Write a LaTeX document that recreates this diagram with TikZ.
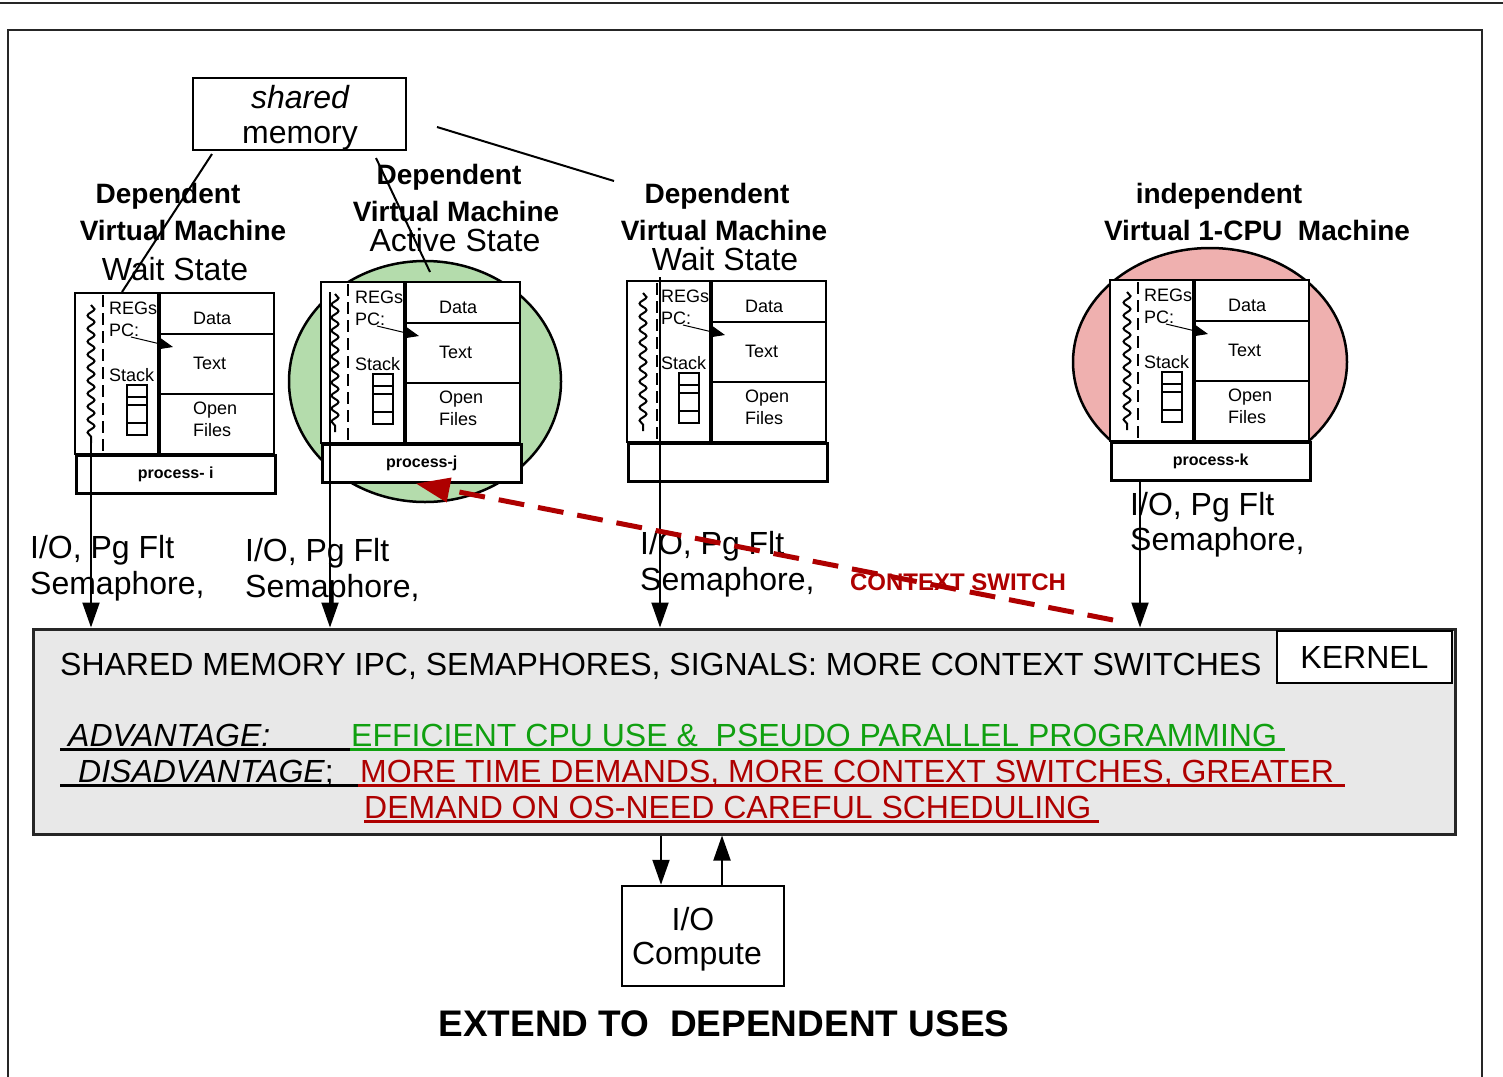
\documentclass[tikz,border=0pt]{standalone}
\usepackage{fontspec}
\setmainfont{Liberation Sans}
\usetikzlibrary{arrows.meta,decorations.pathmorphing,calc}

\definecolor{vmgreen}{HTML}{B4DCAC}
\definecolor{vmpink}{HTML}{EFB0AF}
\definecolor{csred}{HTML}{AE0000}
\definecolor{advgreen}{HTML}{10A010}
\definecolor{kgray}{HTML}{E8E8E8}

\newcommand\bigtext{\fontsize{32}{35}\selectfont}
\newcommand\headtext{\fontsize{28}{34}\selectfont\bfseries}
\newcommand\celltext{\fontsize{18}{20}\selectfont}

% one process block: #1,#2 top-left corner, #3 name, #4 label,
% #5 x of the dashed line, #6 x of the thread (wavy line)
\newcommand\vmproc[6]{%
  \begin{scope}[shift={(#1,#2)}]
    \coordinate (#3-nw) at (0,0);
    \draw[procline, fill=white] (0,0) rectangle (199,161);
    \draw[line width=3.2pt] (84,0) -- (84,161);
    \draw[procline] (84,41) -- (199,41) (84,101) -- (199,101);
    \draw[procline, dash pattern=on 12pt off 6pt] (#5,2) -- (#5,161);
    \draw[thread] (#6,12) -- (#6,150);
    \node[cell] (#3-regs) at (34,21) {REGs};
    \node[cell] (#3-pc) at (34,43) {PC:};
    \node[cell] (#3-stack) at (34,88) {Stack};
    \draw[procline] (52,92) rectangle (72,142)
      (52,104) -- (72,104) (52,112) -- (72,112) (52,130) -- (72,130);
    \draw[pcarrow] (56,44) -- (98,54);
    \node[cell] (#3-data) at (118,31) {Data};
    \node[cell] (#3-text) at (118,76) {Text};
    \node[cell] (#3-open) at (118,121) {Open};
    \node[cell] (#3-files) at (118,143) {Files};
    \node[procline, draw, fill=white, minimum width=199pt, minimum height=38pt,
      inner sep=0pt, anchor=north west,
      font=\fontsize{16}{18}\selectfont\bfseries] (#3-bot) at (0,161) {#4};
  \end{scope}}

\begin{document}
\begin{tikzpicture}[x=1pt, y=-1pt,
  procline/.style={line width=2.5pt},
  box/.style={draw, line width=2.5pt},
  thread/.style={line width=2pt, decorate,
    decoration={snake, amplitude=3.5pt, segment length=13pt}},
  cell/.style={font=\celltext, inner sep=0pt, anchor=base west},
  pcarrow/.style={line width=1pt, -{Triangle[length=15pt,width=12pt]}},
  lbl/.style={font=\bigtext, inner sep=0pt, anchor=base west},
  hdr/.style={font=\headtext, inner sep=0pt, anchor=base},
  sub/.style={font=\bigtext, inner sep=0pt, anchor=base},
  arr/.style={line width=2pt, -{Triangle[length=25pt,width=17pt]}},
  csline/.style={line width=5pt, csred, dash pattern=on 26pt off 14pt,
    -{Triangle[length=34pt,width=24pt]}},
  uline/.style={line width=3pt}]

\useasboundingbox (0,0) rectangle (1503,1076);

% page rule and frame
\draw[line width=2.5pt, black!85] (0,3) -- (1503,3);
\draw[line width=2.5pt, black!85] (8,1090) -- (8,30) -- (1482,30) -- (1482,1090);

% shared memory
\node[box, minimum width=213pt, minimum height=72pt, inner sep=0pt] (shm) at (299.5,114) {};
\node[sub, font=\bigtext\itshape] (shm-a) at (300,108) {shared};
\node[sub] (shm-b) at (300,143) {memory};

% virtual machine circles
\draw[line width=2.5pt, fill=vmgreen] (425,381.5) ellipse [x radius=136pt, y radius=120.5pt];
\draw[line width=2.5pt, fill=vmpink] (1210,362) ellipse [x radius=137pt, y radius=114pt];

% links from the shared memory
\coordinate (sl1) at (212,154);
\coordinate (sl2) at (376,158);
\coordinate (sl3) at (437,127);
\coordinate (st1) at (122,292);
\coordinate (st2) at (430,272);
\coordinate (st3) at (614,181);

% process blocks
\vmproc{75}{293}{pi}{process- i}{28}{16}
\vmproc{321}{282}{pj}{process-j}{27}{14}
\vmproc{627}{281}{p3}{}{30}{16}
\vmproc{1110}{280}{pk}{process-k}{28}{17}

\draw[line width=2pt] (sl1) -- (st1);
\draw[line width=2pt] (sl2) -- (st2);
\draw[line width=2pt] (sl3) -- (st3);

% headings
\node[hdr] (h1a) at (168,203) {Dependent};
\node[hdr] (h1b) at (183,240) {Virtual Machine};
\node[sub] (h1c) at (175,280) {Wait State};
\node[hdr] (h2a) at (449,184) {Dependent};
\node[hdr] (h2b) at (456,221) {Virtual Machine};
\node[sub] (h2c) at (455,251) {Active State};
\node[hdr] (h3a) at (717,203) {Dependent};
\node[hdr] (h3b) at (724,240) {Virtual Machine};
\node[sub] (h3c) at (725,270) {Wait State};
\node[hdr] (h4a) at (1219,203) {independent};
\node[hdr] (h4b) at (1257,240) {Virtual 1-CPU\ \ Machine};

% trap labels
\node[lbl] (t1a) at (30,558) {I/O, Pg Flt};
\node[lbl] (t1b) at (30,594) {Semaphore,};
\node[lbl] (t2a) at (245,561) {I/O, Pg Flt};
\node[lbl] (t2b) at (245,597) {Semaphore,};
\node[lbl] (t3a) at (640,554) {I/O, Pg Flt};
\node[lbl] (t3b) at (640,590) {Semaphore,};
\node[lbl] (t4a) at (1130,515) {I/O, Pg Flt};
\node[lbl] (t4b) at (1130,550) {Semaphore,};

% kernel
\node[draw=black!85, line width=3pt, fill=kgray, minimum width=1422pt,
  minimum height=205pt, inner sep=0pt] (kernel) at (744,731.5) {};
\node[box, fill=white, minimum width=175pt, minimum height=52pt, inner sep=0pt,
  font=\bigtext] (kname) at (1364.5,657) {KERNEL};
\node[lbl] (k1) at (60,675) {SHARED MEMORY IPC, SEMAPHORES, SIGNALS: MORE CONTEXT SWITCHES};
\node[lbl, font=\bigtext\itshape] (adv) at (68,746) {ADVANTAGE:};
\node[lbl, text=advgreen] (advt) at (351,746) {EFFICIENT CPU USE \&\ \ PSEUDO PARALLEL PROGRAMMING};
\node[lbl] (dis) at (78,782) {\itshape DISADVANTAGE\upshape;};
\node[lbl, text=csred] (dist1) at (360,782) {MORE TIME DEMANDS, MORE CONTEXT SWITCHES, GREATER};
\node[lbl, text=csred] (dist2) at (364,818) {DEMAND ON OS-NEED CAREFUL SCHEDULING};
\draw[uline] (60,749) -- (350,749);
\draw[uline, advgreen] (350,749) -- (1285,749);
\draw[uline] (60,785) -- (358,785);
\draw[uline, csred] (358,785) -- (1345,785);
\draw[uline, csred] (364,821) -- (1099,821);

% process threads into the kernel
\coordinate (pi-tail) at ([shift={(16,150)}]pi-nw);
\coordinate (pj-tail) at ([shift={(9,10)}]pj-nw);
\coordinate (p3-tail) at ([shift={(33,-4)}]p3-nw);
\coordinate (pk-tail) at ([xshift=30pt]pk-bot.south west);
\draw[arr] (pi-tail) -- (pi-tail |- kernel.north);
\draw[arr] (pj-tail) -- (pj-tail |- kernel.north);
\draw[arr] (p3-tail) -- (p3-tail |- kernel.north);
\draw[arr] (pk-tail) -- (pk-tail |- kernel.north);

% I/O device
\node[box, minimum width=162pt, minimum height=100pt, inner sep=0pt] (io) at (703,936) {};
\node[sub] (io-a) at (693,930) {I/O};
\node[sub] (io-b) at (697,964) {Compute};
\coordinate (ioin) at ([xshift=-42pt]io.north);
\coordinate (ioout) at ([xshift=19pt]io.north);
\draw[arr] (ioin |- kernel.south) -- (ioin);
\draw[arr] (ioout) -- (ioout |- kernel.south);

\node[hdr, font=\fontsize{37}{42}\selectfont\bfseries] (ext) at (724,1036) {EXTEND TO\ \ DEPENDENT USES};

% context switch
\node[hdr, font=\fontsize{24}{28}\selectfont\bfseries, text=csred] (cs) at (958,590) {CONTEXT SWITCH};
\coordinate (csw) at (1113,620);
\coordinate (csend) at ([xshift=-6pt]pj-bot.south);
\draw[csline] (csw) -- (csend);
\end{tikzpicture}
\end{document}
